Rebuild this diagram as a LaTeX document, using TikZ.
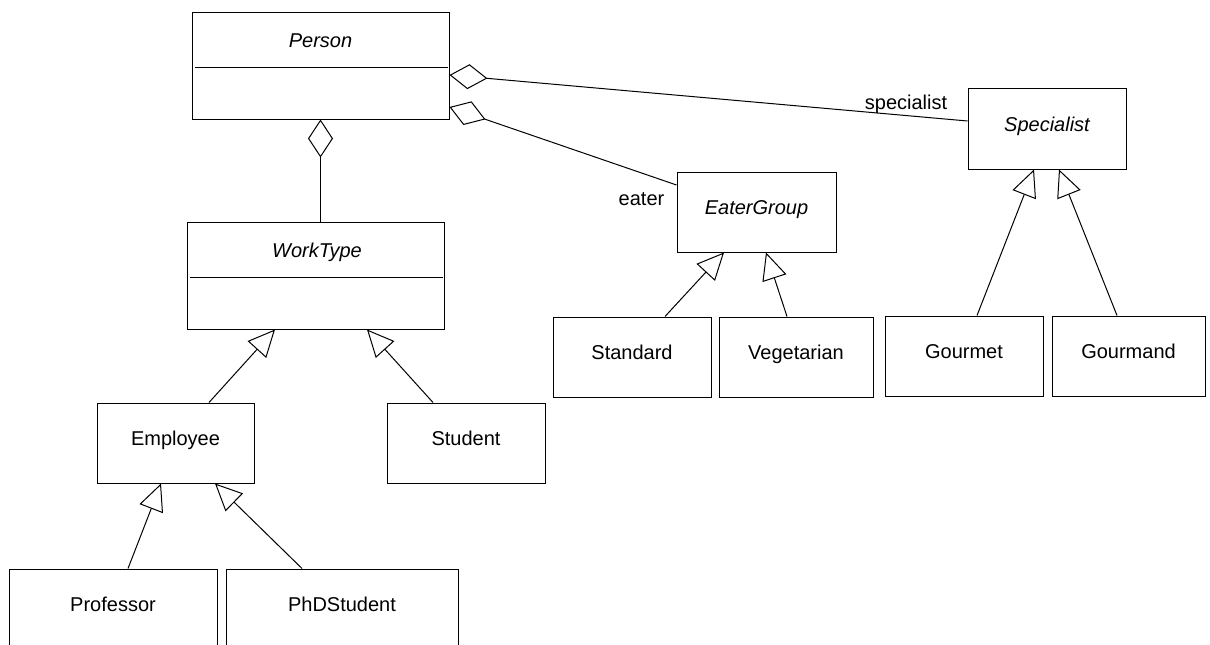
\documentclass[tikz,border=0pt]{standalone}
\usepackage{fontspec}
\setmainfont{Liberation Sans}
\usetikzlibrary{arrows.meta,calc}
\begin{document}
\begin{tikzpicture}[x=1pt,y=-1pt,
  every node/.style={font=\fontsize{20}{24}\selectfont},
  box/.style={draw,line width=1pt,inner sep=0pt},
  cls/.style={box,text height=14pt,text depth=9pt,minimum height=80pt},
  conn/.style={line width=1pt},
  gen/.style={conn,-{Triangle[open,length=27pt,width=25pt]}},
  agg/.style={conn,-{Diamond[open,length=38pt,width=25pt]}},
]
\useasboundingbox (0,0) rectangle (1210,645);
\clip (0,0) rectangle (1210,645);

% Abstract classes with compartments
\node[box,minimum width=257pt,minimum height=107pt] (person) at (320.5,65.5) {};
\draw[conn] ($(person.north west)+(3,56)$) -- ($(person.north east)+(-2,56)$);
\node[anchor=base] (personname) at (320.5,47) {\itshape Person};

\node[box,minimum width=257pt,minimum height=107pt] (wt) at (315.5,275.5) {};
\draw[conn] ($(wt.north west)+(3,56)$) -- ($(wt.north east)+(-2,56)$);
\node[anchor=base] (wtname) at (317,257) {\itshape WorkType};

% Classes
\node[cls,minimum width=157pt] (emp) at (175.5,443) {Employee};
\node[cls,minimum width=158pt] (stud) at (466,443) {Student};
\node[cls,minimum width=208pt] (prof) at (113,609) {Professor};
\node[cls,minimum width=232pt] (phd) at (342,609) {PhDStudent};
\node[cls,minimum width=159pt] (eg) at (756.5,212) {\itshape EaterGroup};
\node[cls,minimum width=158pt] (std) at (632,357) {Standard};
\node[cls,minimum width=154pt] (veg) at (796,357) {Vegetarian};
\node[cls,minimum width=158pt,minimum height=81pt] (spec) at (1047,128.5) {\itshape Specialist};
\node[cls,minimum width=158pt] (gour) at (964,356) {Gourmet};
\node[cls,minimum width=153pt] (gmd) at (1128.5,356) {Gourmand};

% Role labels
\node[anchor=base] (lblspec) at (906,109) {specialist};
\node[anchor=base] (lbleater) at (641.5,205) {eater};

% Aggregations
\draw[agg] (person.south |- wt.north) -- (person.south);
\draw[agg] ($(spec.west)+(0,-7.5)$) -- ($(person.east)+(0,9.5)$);
\draw[agg] ($(eg.west)+(0,-27)$) -- ($(person.east)+(0,41.5)$);

% Generalizations
\draw[gen] ($(emp.north)+(33.5,0)$) -- ($(wt.south)+(-40.5,0)$);
\draw[gen] ($(stud.north)+(-33,0)$) -- ($(wt.south)+(51.5,0)$);
\draw[gen] ($(prof.north)+(15,0)$) -- ($(emp.south)+(-14.5,0)$);
\draw[gen] ($(phd.north)+(-40,0)$) -- ($(emp.south)+(39.5,0)$);
\draw[gen] ($(std.north)+(33,0)$) -- ($(eg.south)+(-32.5,0)$);
\draw[gen] ($(veg.north)+(-9,0)$) -- ($(eg.south)+(9.5,0)$);
\draw[gen] ($(gour.north)+(13,0)$) -- ($(spec.south)+(-13,0)$);
\draw[gen] ($(gmd.north)+(-11.5,0)$) -- ($(spec.south)+(12,0)$);
\end{tikzpicture}
\end{document}
